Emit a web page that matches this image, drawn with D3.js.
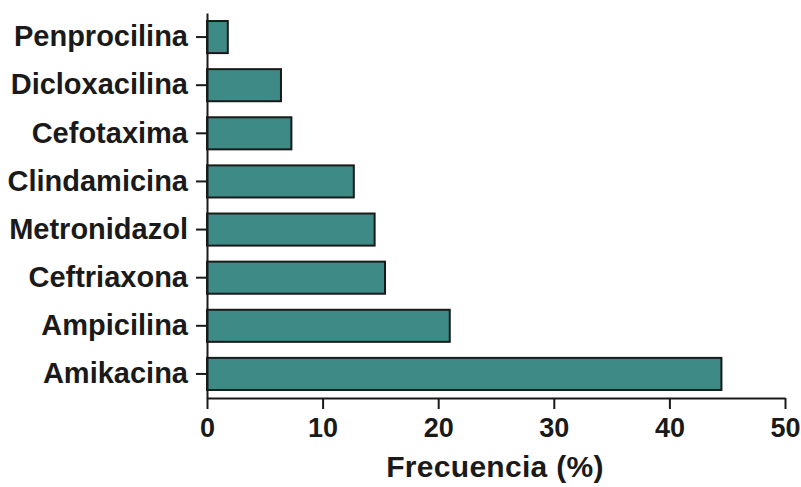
<!DOCTYPE html>
<html>
<head>
<meta charset="utf-8">
<script src="https://cdn.jsdelivr.net/npm/d3@7"></script>
<style>
  html, body { margin: 0; padding: 0; background: #fff; }
  svg text { font-family: "Liberation Sans", Arial, sans-serif; font-weight: bold; fill: #1a1a1a; }
</style>
</head>
<body>
<div id="chart"></div>
<script>
// antibiotics, top to bottom
const categories = ['Penprocilina', 'Dicloxacilina', 'Cefotaxima', 'Clindamicina',
  'Metronidazol', 'Ceftriaxona', 'Ampicilina', 'Amikacina'];
const frequencies = [1.8, 6.4, 7.3, 12.7, 14.5, 15.4, 21.0, 44.5];
const xTicks = [0, 10, 20, 30, 40, 50];
const xLabel = 'Frecuencia (%)';

const width = 801, height = 487;
const margin = { top: 13, right: 16, bottom: 89, left: 207 };
const chartWidth = width - margin.left - margin.right;
const chartHeight = height - margin.top - margin.bottom;

const svg = d3.select('#chart')
  .append('svg')
  .attr('width', width)
  .attr('height', height);

const g = svg.append('g')
  .attr('transform', `translate(${margin.left},${margin.top})`);

const xScale = d3.scaleLinear().domain([0, 50]).range([0, chartWidth]);
const yScale = d3.scaleBand()
  .domain(categories)
  .range([0, chartHeight])
  .paddingInner(1 / 3)
  .paddingOuter(1 / 6);

// bars
g.selectAll('.bar')
  .data(categories)
  .enter()
  .append('rect')
  .attr('class', 'bar')
  .attr('x', xScale(0))
  .attr('y', d => yScale(d))
  .attr('width', (d, i) => xScale(frequencies[i]) - xScale(0))
  .attr('height', yScale.bandwidth())
  .attr('fill', '#3d8a87')
  .attr('stroke', '#1a1a1a')
  .attr('stroke-width', 2);

// y axis
const yAxis = g.append('g')
  .call(d3.axisLeft(yScale).tickSize(11).tickSizeOuter(0).tickPadding(8));
yAxis.selectAll('text').style('font-size', '29px');

// x axis
const xAxis = g.append('g')
  .attr('transform', `translate(0,${chartHeight})`)
  .call(d3.axisBottom(xScale).tickValues(xTicks).tickSize(11).tickSizeOuter(0).tickPadding(9));
xAxis.selectAll('text').style('font-size', '27px');

svg.selectAll('.domain, .tick line')
  .attr('stroke', '#1a1a1a')
  .attr('stroke-width', 2);

// axis label
svg.append('text')
  .attr('text-anchor', 'middle')
  .attr('x', 495)
  .attr('y', 477)
  .style('font-size', '30px')
  .style('letter-spacing', '0.3px')
  .text(xLabel);
</script>
</body>
</html>
